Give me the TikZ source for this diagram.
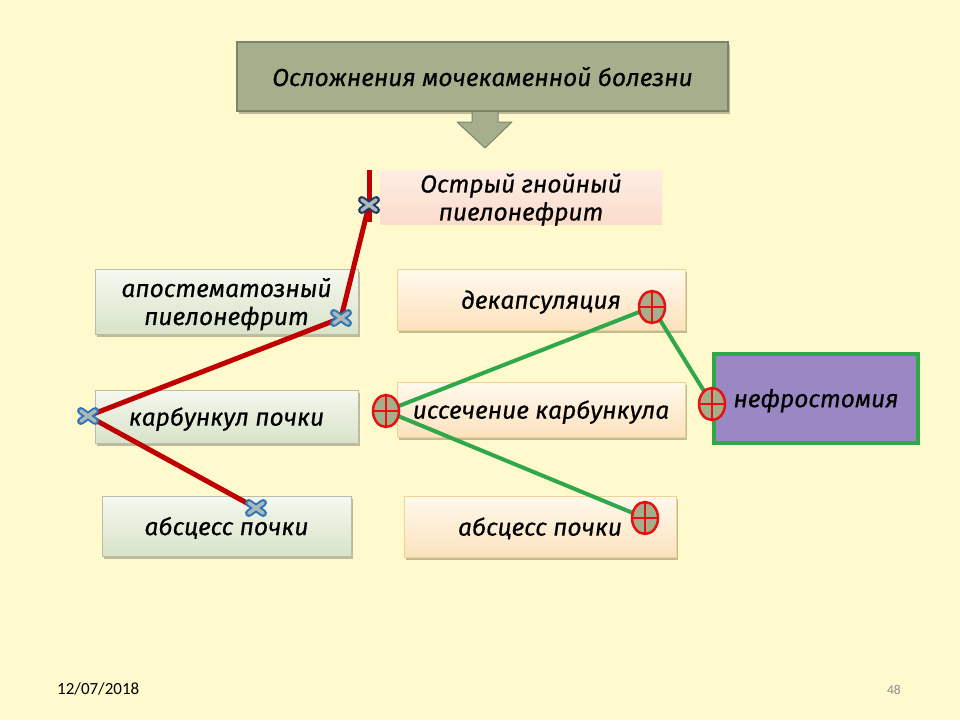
\documentclass[tikz,border=0pt]{standalone}
\usepackage{fontspec}
\setmainfont{Fira Sans}[ItalicFeatures={FakeBold=0.6}]
\newfontfamily\footfont{Carlito}
\usetikzlibrary{shapes.geometric,shadows}
\pgfdeclarelayer{boxes}
\pgfdeclarelayer{lines}
\pgfsetlayers{boxes,lines,main}
\definecolor{bgc}{HTML}{FFFACD}
\definecolor{titlefill}{HTML}{A6AF8C}
\definecolor{titledraw}{HTML}{7C846C}
\definecolor{greentop}{HTML}{F5F8EF}
\definecolor{greenbot}{HTML}{D8E3C9}
\definecolor{greendraw}{HTML}{B9BDA9}
\definecolor{peachtop}{HTML}{FFF9EC}
\definecolor{peachbot}{HTML}{FCE2BE}
\definecolor{peachdraw}{HTML}{F0D38E}
\definecolor{pinktop}{HTML}{FDEDE4}
\definecolor{pinkbot}{HTML}{FBDCCB}
\definecolor{purplefill}{HTML}{9A88C4}
\definecolor{gline}{HTML}{2EA84A}
\definecolor{rline}{HTML}{C00000}
\definecolor{mred}{HTML}{E81010}
\definecolor{mfill}{HTML}{A5AD8A}
\definecolor{xblue}{HTML}{2E75B6}
\definecolor{xnavy}{HTML}{1F3864}
\definecolor{xin}{HTML}{A9B9BC}
\definecolor{pagegray}{HTML}{8C8C8C}
\tikzset{
  txt/.style={font=\fontsize{24.5}{28}\selectfont\itshape, align=center, text=black, inner sep=0, text depth=-1pt},
  shadowed/.style={drop shadow={shadow xshift=1.5pt, shadow yshift=-2.5pt, fill=black, opacity=0.25}},
  titlebox/.style={txt, fill=titlefill, draw=titledraw, line width=1.5, shadowed},
  greenbox/.style={txt, top color=greentop, bottom color=greenbot, draw=greendraw, line width=1, shadowed},
  peachbox/.style={txt, top color=peachtop, bottom color=peachbot, draw=peachdraw, line width=1, shadowed},
  pinkbox/.style={txt, top color=pinktop, bottom color=pinkbot},
  purplebox/.style={txt, fill=purplefill, draw=gline, line width=4},
  xm/.style={rectangle, minimum width=14, minimum height=10, inner sep=0},
  pm/.style={ellipse, minimum width=26, minimum height=32, inner sep=0, fill=mfill, draw=mred, line width=2.5,
    path picture={\draw[mred, line width=2] (path picture bounding box.north) -- (path picture bounding box.south)
      (path picture bounding box.west) -- (path picture bounding box.east);}},
  redline/.style={rline, line width=5, line join=round},
  greenline/.style={gline, line width=4, line join=round},
}
\begin{document}
\begin{tikzpicture}[x=1pt,y=-1pt]
\begin{pgfonlayer}{boxes}
\fill[bgc] (0,0) rectangle (960,720);
\useasboundingbox (0,0) rectangle (960,720);
% title and arrow
\node[titlebox, minimum width=491, minimum height=69] (title) at (482.5,76.5) {Осложнения мочекаменной болезни};
\filldraw[fill=titlefill, draw=titledraw, line width=1, line join=round]
  (472,112) -- (472,122) -- (457,122) -- (485,148) -- (512,122) -- (498,122) -- (498,112);
% top node
\node[pinkbox, minimum width=282, minimum height=54] (acute) at (521,197) {Острый гнойный\\пиелонефрит};
% left column
\node[greenbox, minimum width=263, minimum height=65] (apost) at (226.5,301.5) {апостематозный\\пиелонефрит};
\node[greenbox, minimum width=263, minimum height=53] (karb) at (226.5,416.5) {карбункул почки};
\node[greenbox, minimum width=249, minimum height=60] (absl) at (226.5,526) {абсцесс почки};
% right column
\node[peachbox, minimum width=288, minimum height=61] (decap) at (541,299.5) {декапсуляция};
\node[peachbox, minimum width=288, minimum height=55] (exc) at (541,409.5) {иссечение карбункула};
\node[peachbox, minimum width=272, minimum height=61] (absr) at (540,526.5) {абсцесс почки};
\node[purplebox, minimum width=204, minimum height=89] (nephro) at (816,398) {нефростомия};
\end{pgfonlayer}
% markers
\node[xm] (x1) at (369,205) {};
\node[xm] (x2) at (341,318) {};
\node[xm] (x3) at (88,416) {};
\node[xm] (x4) at (256,508) {};
\coordinate (rtop) at (369,170);
\coordinate (rbot) at (369,222);
\node[pm] (p1) at (652,307) {};
\node[pm] (p2) at (386,411) {};
\node[pm] (p3) at (645,518) {};
\node[pm] (p4) at (712,404) {};
\begin{pgfonlayer}{lines}
\draw[redline] (rtop) -- (rbot);
\draw[redline] (x1.center) -- (x2.center) -- (x3.center) -- (x4.center);
\draw[greenline] (p2.center) -- (p1.center) -- (p4.center);
\draw[greenline] (p2.center) -- (p3.center);
\end{pgfonlayer}
\foreach \n/\c in {x1/xnavy, x2/xblue, x3/xblue, x4/xblue}{
  \draw[\c, line width=7.5, line cap=round] (\n.north west) -- (\n.south east) (\n.south west) -- (\n.north east);
  \draw[xin, line width=3.5, line cap=round] (\n.north west) -- (\n.south east) (\n.south west) -- (\n.north east);
}
% footer
\node[anchor=base west, inner sep=0, font=\footfont\fontsize{17}{19}\selectfont] (date) at (57,694) {12/07/2018};
\node[anchor=base east, inner sep=0, text=pagegray, font=\footfont\fontsize{13.5}{16}\selectfont] (page) at (901,694) {48};
\end{tikzpicture}
\end{document}
